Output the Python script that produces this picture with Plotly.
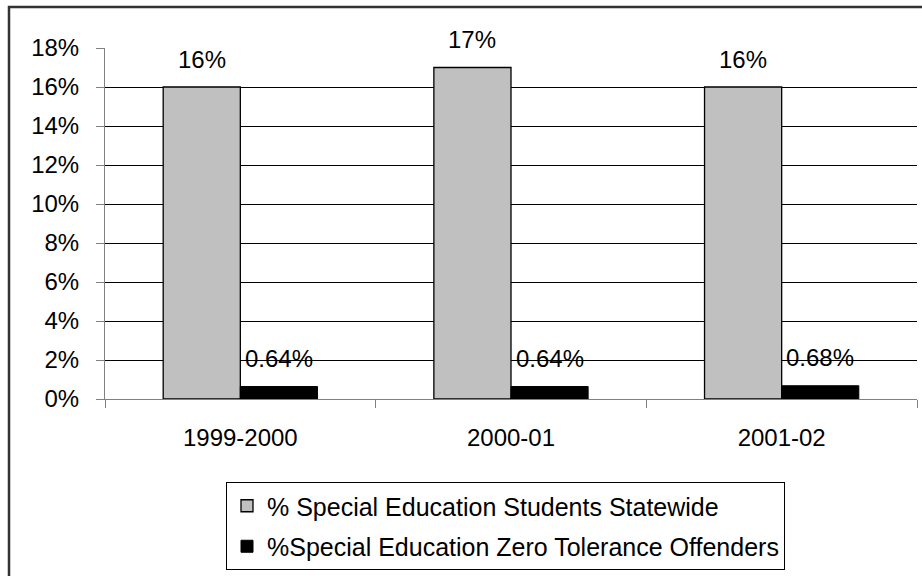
import plotly.graph_objects as go

categories = ["1999-2000", "2000-01", "2001-02"]
statewide = [16, 17, 16]
offenders = [0.64, 0.64, 0.68]
series_names = ["% Special Education Students Statewide",
                "%Special Education Zero Tolerance Offenders"]
y_ticks = [0, 2, 4, 6, 8, 10, 12, 14, 16, 18]
grid_ticks = [2, 4, 6, 8, 10, 12, 14, 16]

FONT = "Arial, 'Liberation Sans', sans-serif"
W, H = 922, 576
ML, MR, MT, MB = 105, 5, 48, 177
BARGAP = 0.43

fig = go.Figure()
fig.add_trace(go.Bar(x=categories, y=statewide, name=series_names[0],
                     marker=dict(color="#c0c0c0", line=dict(color="#000000", width=1.3)),
                     legendgroup="a"))
fig.add_trace(go.Bar(x=categories, y=offenders, name=series_names[1],
                     marker=dict(color="#000000", line=dict(color="#000000", width=1)),
                     legendgroup="b"))
fig.add_trace(go.Scatter(x=categories, y=[None] * 3, yaxis="y2", showlegend=False,
                         hoverinfo="skip", mode="lines"))

cat_px = (W - ML - MR) / len(categories)
bar_px = (1 - BARGAP) / 2 * cat_px
annotations = []
for c, v in zip(categories, statewide):
    annotations.append(dict(x=c, y=v, text=f"{v:.0f}%", showarrow=False,
                            xshift=-bar_px / 2, yshift=28, yanchor="middle",
                            font=dict(family=FONT, size=24, color="#000")))
for c, v in zip(categories, offenders):
    annotations.append(dict(x=c, y=v, text=f"{v:.2f}%", showarrow=False,
                            xshift=bar_px / 2, yshift=28, yanchor="middle",
                            font=dict(family=FONT, size=24, color="#000")))

fig.update_layout(
    width=W, height=H,
    margin=dict(l=ML, r=MR, t=MT, b=MB, autoexpand=False),
    paper_bgcolor="white", plot_bgcolor="white",
    barmode="group", bargap=BARGAP, bargroupgap=0,
    font=dict(family=FONT, size=24, color="#000"),
    showlegend=True,
    legend=dict(x=(226 - ML) / (W - ML - MR), y=(H - MB - 482) / (H - MT - MB),
                xanchor="left", yanchor="top",
                bordercolor="#000", borderwidth=1, bgcolor="white",
                traceorder="grouped", tracegroupgap=5,
                font=dict(family=FONT, size=25, color="#000")),
    xaxis=dict(type="category", showline=True, linecolor="#808080", linewidth=1,
               ticks="outside", tickson="boundaries", ticklen=8, tickcolor="#808080",
               showgrid=False, ticklabelstandoff=17, tickangle=0,
               tickfont=dict(family=FONT, size=24, color="#000")),
    yaxis=dict(range=[0, 18], tickmode="array", tickvals=y_ticks,
               ticktext=[f"{t}%" for t in y_ticks],
               showline=True, linecolor="#808080", linewidth=1,
               ticks="outside", ticklen=8, tickcolor="#808080",
               showgrid=False, zeroline=False, ticklabelstandoff=12,
               tickfont=dict(family=FONT, size=24, color="#000")),
    yaxis2=dict(range=[0, 18], overlaying="y", tickmode="array", tickvals=grid_ticks,
                showgrid=True, gridcolor="#000000", gridwidth=1,
                showticklabels=False, showline=False, ticks="", zeroline=False),
    annotations=annotations,
    shapes=[dict(type="rect", xref="paper", yref="paper",
                 x0=(9 - ML) / (W - ML - MR), x1=1.2,
                 y0=-1.0, y1=(H - MB - 7) / (H - MT - MB),
                 line=dict(color="#333333", width=2.5), layer="below")],
)

fig.write_html("out.html", config={"displayModeBar": False},
               post_script="document.body.style.margin='0';document.body.style.padding='0';")
